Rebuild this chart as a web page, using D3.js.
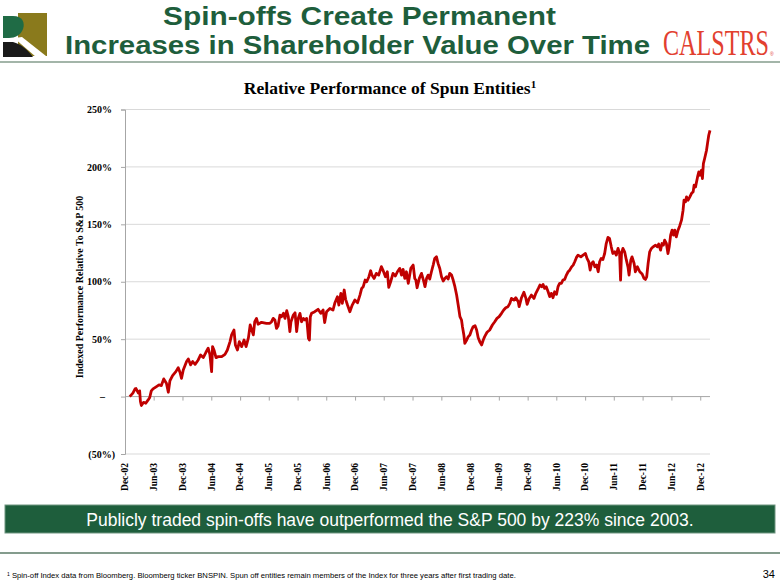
<!DOCTYPE html>
<html>
<head>
<meta charset="utf-8">
<script src="https://cdn.jsdelivr.net/npm/d3@7/dist/d3.min.js"></script>
<style>
  html, body { margin: 0; padding: 0; background: #fff; }
  svg { display: block; }
</style>
</head>
<body>
<svg id="chart" width="780" height="585"></svg>
<script>
// ---------------- DATA ----------------
const slideTitle = ["Spin-offs Create Permanent", "Increases in Shareholder Value Over Time"];
const chartTitle = "Relative Performance of Spun Entities";
const yAxisTitle = "Indexed Performance Relative To S&P 500";
const bannerText = "Publicly traded spin-offs have outperformed the S&P 500 by 223% since 2003.";
const footnoteText = "Spin-off Index data from Bloomberg. Bloomberg ticker BNSPIN. Spun off entities remain members of the Index for three years after first trading date.";
const pageNumber = "34";

const yTicks = [-50, 0, 50, 100, 150, 200, 250];
const yTickLabels = ["(50%)", "\u2013", "50%", "100%", "150%", "200%", "250%"];

const xTickDates = ["2002-12-01","2003-06-01","2003-12-01","2004-06-01","2004-12-01","2005-06-01","2005-12-01",
  "2006-06-01","2006-12-01","2007-06-01","2007-12-01","2008-06-01","2008-12-01","2009-06-01","2009-12-01",
  "2010-06-01","2010-12-01","2011-06-01","2011-12-01","2012-06-01","2012-12-01"];
const xTickLabels = ["Dec-02","Jun-03","Dec-03","Jun-04","Dec-04","Jun-05","Dec-05","Jun-06","Dec-06","Jun-07",
  "Dec-07","Jun-08","Dec-08","Jun-09","Dec-09","Jun-10","Dec-10","Jun-11","Dec-11","Jun-12","Dec-12"];

const seriesDates = [
  "2002-12-31","2003-01-20","2003-02-03","2003-02-09","2003-02-24","2003-03-04","2003-03-09","2003-03-15","2003-03-29","2003-04-12",
  "2003-04-27","2003-05-07","2003-05-17","2003-05-28","2003-06-19","2003-07-05","2003-07-20","2003-08-04","2003-08-21","2003-09-02",
  "2003-09-12","2003-09-29","2003-10-20","2003-11-04","2003-11-15","2003-11-25","2003-12-06","2003-12-27","2004-01-07","2004-01-22",
  "2004-02-04","2004-02-19","2004-03-10","2004-03-25","2004-04-11","2004-04-28","2004-05-12","2004-05-23","2004-06-03","2004-06-09",
  "2004-06-18","2004-07-01","2004-07-15","2004-08-06","2004-08-27","2004-09-11","2004-09-28","2004-10-08","2004-10-23","2004-11-01",
  "2004-11-14","2004-11-26","2004-12-11","2004-12-26","2005-01-08","2005-01-23","2005-02-03","2005-02-13","2005-02-23","2005-03-04",
  "2005-03-15","2005-03-25","2005-04-16","2005-05-17","2005-06-08",
  "2005-06-19","2005-06-29","2005-07-10","2005-07-20","2005-07-30","2005-08-11","2005-08-21","2005-09-02","2005-09-12","2005-09-23",
  "2005-10-03","2005-10-13","2005-10-20","2005-11-04","2005-11-15","2005-11-25","2005-12-05","2005-12-16","2005-12-26","2006-01-07",
  "2006-01-17","2006-01-28","2006-02-08","2006-02-14","2006-02-20","2006-02-28","2006-03-20","2006-04-10","2006-04-27","2006-05-12",
  "2006-05-22","2006-06-03","2006-06-24","2006-07-14","2006-07-25","2006-08-11","2006-08-20","2006-09-02","2006-09-11","2006-09-23",
  "2006-10-02","2006-10-14","2006-10-29","2006-11-13","2006-11-30","2006-12-17","2007-01-01","2007-01-12","2007-01-22","2007-02-03",
  "2007-02-13","2007-02-27","2007-03-10","2007-03-18","2007-04-01","2007-04-15","2007-04-30","2007-05-17","2007-05-27","2007-06-12",
  "2007-06-24","2007-07-03","2007-07-15","2007-07-30","2007-08-14","2007-08-27","2007-09-11","2007-09-22","2007-10-02","2007-10-13",
  "2007-10-23","2007-11-04","2007-11-20","2007-12-05","2007-12-15",
  "2007-12-22","2007-12-30","2008-01-13","2008-01-27","2008-02-08","2008-02-18","2008-02-28","2008-03-09","2008-03-19","2008-03-30",
  "2008-04-10","2008-04-20","2008-05-01","2008-05-11","2008-05-22","2008-06-02","2008-06-13","2008-06-23","2008-07-04","2008-07-14",
  "2008-07-24","2008-08-05","2008-08-15","2008-08-26","2008-09-06","2008-09-16","2008-09-27","2008-10-07","2008-10-13","2008-10-22",
  "2008-10-28","2008-11-09","2008-11-19","2008-11-29","2008-12-10","2008-12-20","2009-01-01","2009-01-11","2009-01-21","2009-02-02",
  "2009-02-12","2009-02-22","2009-03-03","2009-03-18","2009-04-04","2009-04-21","2009-05-06","2009-05-20","2009-06-03","2009-06-18",
  "2009-07-02","2009-07-15","2009-07-29","2009-08-10","2009-08-20","2009-09-05","2009-09-17","2009-10-02","2009-10-08","2009-10-23",
  "2009-11-07","2009-11-20","2009-11-28","2009-12-11","2009-12-25","2010-01-10","2010-01-22","2010-02-07","2010-02-17","2010-02-28",
  "2010-03-09","2010-03-19","2010-03-29","2010-04-10","2010-04-20","2010-04-30","2010-05-11","2010-05-21","2010-06-02","2010-06-12",
  "2010-06-22",
  "2010-07-03","2010-07-13","2010-07-24","2010-08-04","2010-08-15","2010-08-25","2010-09-06","2010-09-16","2010-09-26","2010-10-07",
  "2010-10-17","2010-11-04","2010-11-18","2010-12-03","2010-12-13","2010-12-24","2011-01-02","2011-01-11","2011-01-21","2011-02-01",
  "2011-02-12","2011-02-22","2011-03-03","2011-03-13","2011-03-24","2011-04-04","2011-04-14","2011-04-25","2011-05-05","2011-05-16",
  "2011-05-26","2011-06-07","2011-06-17","2011-06-28","2011-07-08","2011-07-14","2011-07-20","2011-07-29","2011-08-09","2011-08-20",
  "2011-08-30","2011-09-06","2011-09-17","2011-09-25","2011-10-08","2011-10-16","2011-10-29","2011-11-13","2011-11-28","2011-12-10",
  "2011-12-19","2011-12-27","2012-01-05","2012-01-15","2012-01-26","2012-02-06","2012-02-21","2012-03-03","2012-03-12","2012-03-24",
  "2012-04-02","2012-04-11","2012-04-19","2012-04-30","2012-05-10","2012-05-18","2012-05-27","2012-06-05","2012-06-14","2012-06-22",
  "2012-07-02","2012-07-13","2012-07-23","2012-08-04","2012-08-14","2012-08-20","2012-08-29","2012-09-05","2012-09-15","2012-09-26",
  "2012-10-06","2012-10-17","2012-10-23","2012-11-01","2012-11-14","2012-11-22","2012-11-30","2012-12-09","2012-12-15","2012-12-21",
  "2012-12-29","2013-01-10","2013-01-16","2013-01-24","2013-02-01"
];
const seriesValues = [
  0, 3, 6.7, 7, 3, 5, -4.3, -7.8, -5, -5.8,
  -2.9, -0.8, 5, 6.7, 8.7, 10.2, 9.6, 15.4, 11.6, 3.8,
  13.6, 18.3, 21.7, 25.2, 21.2, 15.9, 23.2, 30.5, 32.8, 27.6,
  30.5, 28.1, 31.9, 36.3, 34, 38.6, 42.1, 36.8, 21.7, 43.5,
  40.6, 33.9, 34.8, 34.8, 36.8, 40.6, 47.9, 53.7, 58, 45,
  40.6, 47.9, 43.5, 49.3, 43.5, 51.3, 62.4, 58, 53.7, 65.3,
  68.1, 63, 64.7, 63.8, 63.8,
  65.2, 68.1, 66.7, 59.4, 61.5, 71, 69.6, 72.5, 68.1, 74.8,
  69.6, 56.5, 65.2, 71, 73, 56.5, 68.1, 72.5, 65.2, 68.1,
  66.7, 68.1, 50.7, 49.3, 69.6, 72.5, 73.9, 76, 72.5, 75.4,
  64.4, 73.9, 76.8, 75.4, 81.2, 87, 79.7, 89.9, 81.2, 92.8,
  84.7, 79.7, 73.9, 79.7, 84.1, 81.8, 88.4, 94.2, 95.7, 101.5,
  100, 104.4, 109.6, 105.8, 102.9, 107.3, 105.8, 113.1, 110.2, 104.4,
  108.7, 95.1, 100, 107.3, 105, 108.7, 111.6, 105.8, 110.8, 102.9,
  108.7, 98.6, 111.6, 114.5, 102.9,
  101.5, 94.8, 102.9, 107.3, 101.5, 95.7, 102.9, 105.8, 102.3, 108.7,
  114.5, 120.3, 121.8, 116, 111.6, 104.4, 100.6, 102.9, 104.4, 102.3,
  107.3, 105.8, 101.5, 95.7, 88.4, 79.7, 69.6, 66.7, 60.9, 53.6,
  46.4, 49.3, 52.2, 53.6, 58, 60.9, 61.8, 58, 51.3, 47.2,
  45, 49.3, 52.2, 56, 58, 62.3, 65.2, 68.1, 69.6, 72.5,
  75.4, 77.4, 78.3, 81.2, 85.5, 84.1, 86.1, 82.6, 78.3, 86.1,
  90.8, 85.5, 80.3, 85.5, 88.4, 85.5, 89.9, 94.2, 97.1, 95.7,
  97.7, 94.2, 95.7, 91.3, 87, 89.9, 86.1, 91.3, 89, 95.7,
  98.6,
  98.6, 101.5, 102, 105.8, 108.7, 110.1, 113, 114.5, 117.4, 121.2,
  123.2, 121.7, 123.2, 124.6, 120.3, 117.4, 110.2, 115.9, 117.4, 113,
  114.5, 108.7, 117.4, 120.3, 119.4, 124.6, 133.3, 138.6, 137.7, 130.4,
  124.6, 126.1, 123.2, 129, 124.6, 101.4, 124.6, 129, 126.1, 118.8,
  113, 105.8, 118.8, 121.7, 115.9, 108.7, 113, 108.7, 106.7, 102.9,
  102, 104.3, 115.9, 126.1, 129, 130.4, 131.9, 130.4, 132.8, 127.5,
  133.3, 131.9, 136.2, 133.3, 124.6, 130.4, 140.6, 144.9, 140.6, 144.9,
  139.1, 144.9, 148.4, 153.6, 162.3, 171, 169.6, 173.9, 171, 173.9,
  176.8, 178.3, 184.1, 182.6, 191.3, 195.7, 192.8, 197.1, 189.9, 202.9,
  207.3, 214.5, 220.3, 227.6, 231.9
];

// ---------------- DRAW ----------------
const svg = d3.select("#chart");
const parse = d3.timeParse("%Y-%m-%d");
const green = "#1e5e3c";

// Logo (left)
const logo = svg.append("g");
logo.append("rect").attr("x", 18).attr("y", 13).attr("width", 29).attr("height", 43).attr("fill", "#8a7a1c");
logo.append("path").attr("d", "M3,16 L13,16 C23,16 25,23 23,29 C21,35 15,38 9,38 L3,38 Z").attr("fill", "#1f6b45");
logo.append("path").attr("d", "M3,42 L13,42 C21,44 28,50 33,57 L3,57 Z").attr("fill", "#1a1a1a");
logo.append("path").attr("d", "M14,38 L22,37 L46,56 L36,57 Z").attr("fill", "#fff");

// Slide title (two lines, widths matched to the reference)
const titleX = [359.5, 357.5], titleY = [24.5, 54], titleW = [393, 585];
svg.append("g").selectAll("text").data(slideTitle).join("text")
  .attr("x", (d, i) => titleX[i]).attr("y", (d, i) => titleY[i])
  .attr("text-anchor", "middle")
  .attr("font-family", "Liberation Sans, Arial, sans-serif")
  .attr("font-weight", "bold").attr("font-size", 26)
  .attr("textLength", (d, i) => titleW[i]).attr("lengthAdjust", "spacingAndGlyphs")
  .attr("fill", green)
  .text(d => d);

// CALSTRS logo (horizontally condensed)
const cal = svg.append("text")
  .attr("font-family", "Liberation Serif, Times New Roman, serif")
  .attr("font-size", 35).attr("fill", "#e2402f")
  .text("CALSTRS");
const calW = cal.node().getComputedTextLength();
cal.attr("transform", `translate(663,55) scale(${106 / calW},1)`);
svg.append("text").attr("x", 770).attr("y", 56)
  .attr("font-family", "Liberation Sans, Arial, sans-serif")
  .attr("font-size", 5).attr("fill", "#e2402f").text("\u00ae");

// Title rule
svg.append("line").attr("x1", 0).attr("x2", 780).attr("y1", 62).attr("y2", 62)
  .attr("stroke", "#849c8d").attr("stroke-width", 1.5);

// Chart title
const ct = svg.append("text").attr("x", 390).attr("y", 94).attr("text-anchor", "middle")
  .attr("font-family", "Liberation Serif, Times New Roman, serif")
  .attr("font-weight", "bold").attr("font-size", 17.5).attr("fill", "#000");
ct.append("tspan").text(chartTitle);
ct.append("tspan").attr("dy", -6).attr("font-size", 11).text("1");

// Scales
const x = d3.scaleTime().domain([parse("2002-12-01"), parse("2013-02-01")]).range([125, 710]);
const y = d3.scaleLinear().domain([-50, 250]).range([454, 109.5]);

// Gridlines
svg.append("g").selectAll("line").data(yTicks.filter(v => v !== 0)).join("line")
  .attr("x1", 125).attr("x2", 710)
  .attr("y1", d => y(d)).attr("y2", d => y(d))
  .attr("stroke", "#d9d9d9").attr("stroke-width", 1);

// Y axis
const yAxis = d3.axisLeft(y).tickValues(yTicks).tickSize(4).tickPadding(0)
  .tickFormat((d, i) => yTickLabels[i]);
const gy = svg.append("g").attr("transform", "translate(125,0)").call(yAxis);
gy.select(".domain").attr("stroke", "#a6a6a6");
gy.selectAll(".tick line").attr("stroke", "#a6a6a6");
gy.selectAll(".tick text")
  .attr("font-family", "Liberation Serif, Times New Roman, serif")
  .attr("font-weight", "bold").attr("font-size", 10).attr("fill", "#000")
  .attr("x", d => d < 0 ? -10 : (d === 0 ? -20 : -13));

// X axis at zero
const xAxis = d3.axisBottom(x).tickValues(xTickDates.map(parse)).tickSize(4).tickFormat("");
const gx = svg.append("g").attr("transform", `translate(0,${y(0)})`).call(xAxis);
gx.select(".domain").attr("stroke", "#a6a6a6").attr("d", `M125,0H710`);
gx.selectAll(".tick line").attr("stroke", "#a6a6a6");

// X labels (low position)
svg.append("g").selectAll("text").data(xTickDates).join("text")
  .attr("transform", d => `translate(${x(parse(d))},463) rotate(-90)`)
  .attr("dy", "0.35em").attr("text-anchor", "end")
  .attr("font-family", "Liberation Serif, Times New Roman, serif")
  .attr("font-weight", "bold").attr("font-size", 9.5).attr("fill", "#000")
  .text((d, i) => xTickLabels[i]);

// Y axis title
svg.append("text").attr("transform", "translate(79,287) rotate(-90)")
  .attr("dy", "0.35em").attr("text-anchor", "middle")
  .attr("font-family", "Liberation Serif, Times New Roman, serif")
  .attr("font-weight", "bold").attr("font-size", 10).attr("fill", "#000")
  .text(yAxisTitle);

// Line
const series = seriesDates.map((d, i) => ({ date: parse(d), value: seriesValues[i] }));
svg.append("path").datum(series)
  .attr("fill", "none").attr("stroke", "#c00000").attr("stroke-width", 2.8)
  .attr("stroke-linejoin", "round")
  .attr("d", d3.line().x(d => x(d.date)).y(d => y(d.value)));

// Banner
svg.append("rect").attr("x", 5).attr("y", 505).attr("width", 770).attr("height", 28)
  .attr("fill", green).attr("stroke", "#6f9580").attr("stroke-width", 1);
svg.append("text").attr("x", 390).attr("y", 525.5).attr("text-anchor", "middle")
  .attr("font-family", "Liberation Sans, Arial, sans-serif")
  .attr("font-size", 17.5).attr("fill", "#fff").text(bannerText);

// Footnote rule
svg.append("line").attr("x1", 0).attr("x2", 780).attr("y1", 553).attr("y2", 553)
  .attr("stroke", "#849c8d").attr("stroke-width", 2);

// Footnote
const fn = svg.append("text").attr("x", 7).attr("y", 578)
  .attr("font-family", "Liberation Sans, Arial, sans-serif")
  .attr("font-size", 7.7).attr("fill", "#000");
fn.append("tspan").attr("font-size", 5).attr("dy", -2.5).text("1");
fn.append("tspan").attr("dy", 2.5).text(" " + footnoteText);

svg.append("text").attr("x", 775).attr("y", 578).attr("text-anchor", "end")
  .attr("font-family", "Liberation Sans, Arial, sans-serif")
  .attr("font-size", 11).attr("fill", "#000").text(pageNumber);
</script>
</body>
</html>
